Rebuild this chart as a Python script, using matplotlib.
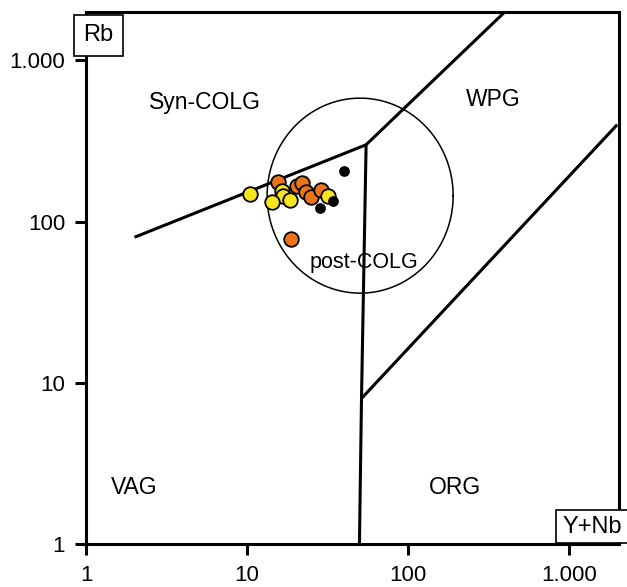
import matplotlib.pyplot as plt
import numpy as np

plt.rcParams['font.family'] = ['Liberation Sans', 'DejaVu Sans']

# samples (Y+Nb, Rb in ppm)
orange_ynb = [15.7, 20.4, 22.0, 23.4, 25.1, 29.0, 18.8]
orange_rb = [175, 167, 174, 152, 142, 157, 78]
yellow_ynb = [10.4, 16.6, 16.8, 18.5, 14.4, 31.9]
yellow_rb = [149, 156, 144, 136, 132, 144]
black_ynb = [40.2, 28.4, 34.2]
black_rb = [207, 122, 134]

# field boundaries (Pearce et al. 1984)
syn_vag = ([2, 55], [80, 300])
syn_wpg = ([55, 400], [300, 2000])
vag_split = ([55, 51.5, 50], [300, 8, 1])
wpg_org = ([51.5, 2000], [8, 400])

tick_vals = [1, 10, 100, 1000]
tick_labels = ['1', '10', '100', '1.000']

fig = plt.figure(figsize=(6.27, 5.87), dpi=100)
ax = fig.add_axes([0.1372, 0.0733, 0.850, 0.9063])
ax.set_xscale('log')
ax.set_yscale('log')
ax.set_xlim(1, 2050)
ax.set_ylim(1, 2000)

for xs, ys in [syn_vag, syn_wpg, vag_split, wpg_org]:
    ax.plot(xs, ys, color='black', lw=2.2, solid_capstyle='butt', zorder=2)

# post-COLG circle, drawn in log space
t = np.linspace(0, 2 * np.pi, 300)
ax.plot(10 ** (np.log10(50.5) + 0.578 * np.cos(t)),
        10 ** (np.log10(145) + 0.605 * np.sin(t)),
        color='black', lw=1.1, zorder=2)

ax.scatter(orange_ynb, orange_rb, s=110, color='#EC7418', edgecolor='black',
           linewidth=1.3, zorder=3)
ax.scatter(yellow_ynb, yellow_rb, s=110, color='#F6E51C', edgecolor='black',
           linewidth=1.3, zorder=4)
ax.scatter(black_ynb, black_rb, s=60, color='black', linewidth=0, zorder=5)

fs = 16.5
ax.text(5.5, 548, 'Syn-COLG', fontsize=fs, ha='center', va='center')
ax.text(337, 573, 'WPG', fontsize=fs, ha='center', va='center')
ax.text(53.3, 55.6, 'post-COLG', fontsize=15.5, ha='center', va='center',
        zorder=6)
ax.text(2.0, 2.23, 'VAG', fontsize=fs, ha='center', va='center')
ax.text(196, 2.23, 'ORG', fontsize=fs, ha='center', va='center')

ax.set_xticks(tick_vals)
ax.set_xticklabels(tick_labels)
ax.set_yticks(tick_vals)
ax.set_yticklabels(tick_labels)
ax.minorticks_off()
ax.tick_params(direction='out', length=8, width=2.2, labelsize=16, pad=7)
for s in ax.spines.values():
    s.set_linewidth(2.2)

box = dict(boxstyle='square,pad=0.4', facecolor='white', edgecolor='black',
           linewidth=1.2)
fig.text(0.1570, 0.9400, 'Rb', fontsize=17, ha='center', va='center',
         bbox=box, zorder=10)
box2 = dict(boxstyle='square,pad=0.25', facecolor='white', edgecolor='black',
            linewidth=1.2)
fig.text(0.9440, 0.1030, 'Y+Nb', fontsize=17, ha='center', va='center',
         bbox=box2, zorder=10)

plt.savefig('out.png', dpi=100)
